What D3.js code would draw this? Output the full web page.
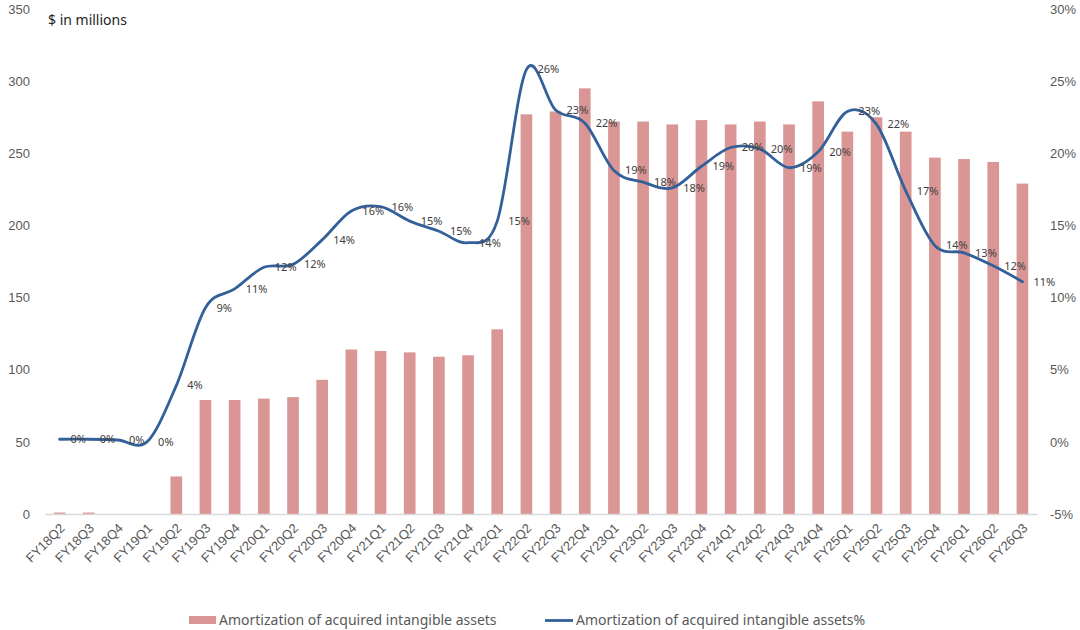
<!DOCTYPE html>
<html>
<head>
<meta charset="utf-8">
<script src="https://cdn.jsdelivr.net/npm/d3@7"></script>
<style>
  body { margin: 0; background: #fff; }
  svg { font-family: "Noto Sans", "Open Sans", sans-serif; }
</style>
</head>
<body>
<svg id="chart" width="1080" height="630"></svg>
<script>
// quarters on the x axis
const quarters = [
  'FY18Q2', 'FY18Q3', 'FY18Q4',
  'FY19Q1', 'FY19Q2', 'FY19Q3', 'FY19Q4',
  'FY20Q1', 'FY20Q2', 'FY20Q3', 'FY20Q4',
  'FY21Q1', 'FY21Q2', 'FY21Q3', 'FY21Q4',
  'FY22Q1', 'FY22Q2', 'FY22Q3', 'FY22Q4',
  'FY23Q1', 'FY23Q2', 'FY23Q3', 'FY23Q4',
  'FY24Q1', 'FY24Q2', 'FY24Q3', 'FY24Q4',
  'FY25Q1', 'FY25Q2', 'FY25Q3', 'FY25Q4',
  'FY26Q1', 'FY26Q2', 'FY26Q3',
]

// amortization, $ in millions (bars)
const amortization = [
  1, 1, 0,
  0, 26, 79, 79,
  80, 81, 93, 114,
  113, 112, 109, 110,
  128, 277, 279, 295,
  272, 272, 270, 273,
  270, 272, 270, 286,
  265, 275, 265, 247,
  246, 244, 229,
]

// amortization as % (line)
const amortizationPct = [
  0.18, 0.18, 0.13,
  0.01, 3.9, 9.3, 10.6,
  12.1, 12.3, 14.0, 16.0,
  16.3, 15.3, 14.6, 13.8,
  15.3, 25.8, 23.0, 22.1,
  18.8, 18.0, 17.6, 19.1,
  20.4, 20.3, 19.0, 20.1,
  22.9, 22.0, 17.4, 13.6,
  13.1, 12.2, 11.1,
]

const leftTicks = [0, 50, 100, 150, 200, 250, 300, 350]
const rightTicks = [-5, 0, 5, 10, 15, 20, 25, 30]

const barName = 'Amortization of acquired intangible assets'
const lineName = 'Amortization of acquired intangible assets%'

const barColor = '#da9694'
const lineColor = '#34609a'
const tickColor = '#595959'

const plot = { left: 45, right: 1037, top: 9, bottom: 514 }

const svg = d3.select('#chart')

const x = d3
  .scaleBand()
  .domain(quarters)
  .range([plot.left, plot.right])
  .paddingInner(0.6)
  .paddingOuter(0.3)

const yLeft = d3.scaleLinear().domain([0, 350]).range([plot.bottom, plot.top])
const yRight = d3.scaleLinear().domain([-5, 30]).range([plot.bottom, plot.top])

// bars
svg
  .append('g')
  .selectAll('rect')
  .data(quarters)
  .enter()
  .append('rect')
  .attr('x', (d) => x(d))
  .attr('y', (d, i) => yLeft(amortization[i]))
  .attr('width', x.bandwidth())
  .attr('height', (d, i) => plot.bottom - yLeft(amortization[i]))
  .attr('fill', barColor)

// x axis line
const xAxis = svg
  .append('g')
  .attr('transform', `translate(0,${plot.bottom})`)
  .call(d3.axisBottom(x).tickSize(0).tickPadding(0))
xAxis.select('.domain').attr('stroke', '#d9d9d9').attr('stroke-width', 1.3)
xAxis
  .selectAll('text')
  .attr('fill', tickColor)
  .attr('font-size', 13)
  .attr('dy', null)
  .attr('y', 0)
  .attr('text-anchor', 'end')
  .attr('transform', 'translate(6,15) rotate(-45)')

// left axis labels
const leftAxis = svg
  .append('g')
  .attr('transform', `translate(${plot.left},0)`)
  .call(d3.axisLeft(yLeft).tickValues(leftTicks).tickSize(0).tickPadding(15))
leftAxis.select('.domain').remove()
leftAxis.selectAll('text').attr('fill', tickColor).attr('font-size', 13)

// right axis labels
const rightAxis = svg
  .append('g')
  .attr('transform', `translate(${plot.right},0)`)
  .call(
    d3
      .axisRight(yRight)
      .tickValues(rightTicks)
      .tickSize(0)
      .tickPadding(13)
      .tickFormat((d) => d + '%')
  )
rightAxis.select('.domain').remove()
rightAxis.selectAll('text').attr('fill', tickColor).attr('font-size', 13)

// smoothed percentage line
const cx = (d) => x(d) + x.bandwidth() / 2
const line = d3
  .line()
  .x((d) => cx(d))
  .y((d, i) => yRight(amortizationPct[i]))
  .curve(d3.curveCatmullRom.alpha(0))

svg
  .append('path')
  .datum(quarters)
  .attr('d', line)
  .attr('fill', 'none')
  .attr('stroke', lineColor)
  .attr('stroke-width', 2.8)
  .attr('stroke-linecap', 'round')

// data labels, right of each point
svg
  .append('g')
  .selectAll('text')
  .data(quarters)
  .enter()
  .append('text')
  .attr('x', (d) => cx(d) + 11)
  .attr('y', (d, i) => yRight(amortizationPct[i]))
  .attr('dy', '0.35em')
  .attr('font-size', 11)
  .attr('fill', '#404040')
  .text((d, i) => Math.round(amortizationPct[i]) + '%')

// unit title
svg
  .append('text')
  .attr('x', 48)
  .attr('y', 25)
  .attr('font-size', 14)
  .attr('fill', '#262626')
  .text('$ in millions')

// legend
const legend = svg.append('g').attr('font-size', 14).attr('fill', tickColor)
legend
  .append('rect')
  .attr('x', 189)
  .attr('y', 616)
  .attr('width', 27)
  .attr('height', 8)
  .attr('fill', barColor)
legend.append('text').attr('x', 219).attr('y', 625).text(barName)
legend
  .append('line')
  .attr('x1', 545)
  .attr('x2', 573)
  .attr('y1', 620.5)
  .attr('y2', 620.5)
  .attr('stroke', lineColor)
  .attr('stroke-width', 2.8)
legend.append('text').attr('x', 576).attr('y', 625).text(lineName)
</script>
</body>
</html>
